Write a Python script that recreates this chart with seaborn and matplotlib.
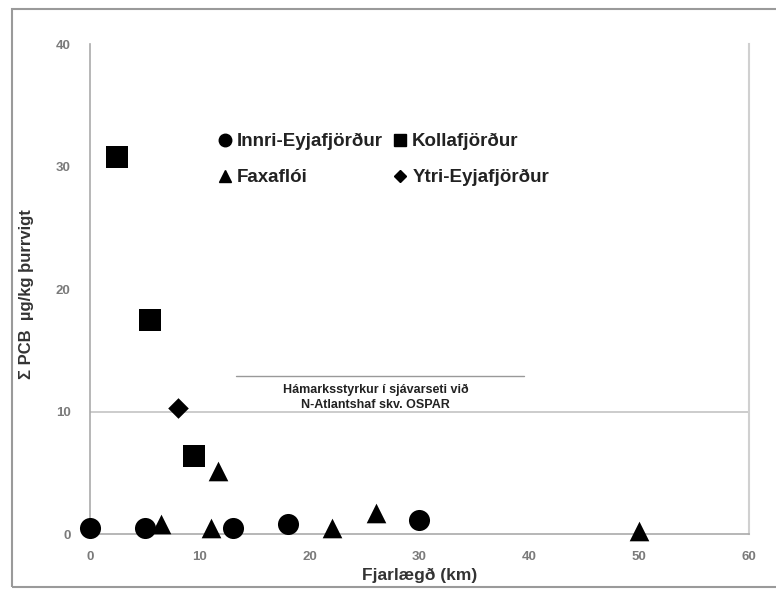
import matplotlib
matplotlib.use("Agg")
import matplotlib.pyplot as plt
import seaborn as sns
import pandas as pd
from matplotlib.lines import Line2D

# Data
innri_x = [0, 5, 13, 18, 30]
innri_y = [0.5, 0.5, 0.5, 0.8, 1.2]
kolla_x = [2.5, 5.5, 9.5]
kolla_y = [30.8, 17.5, 6.4]
faxa_x = [6.5, 11, 11.7, 22, 26, 50]
faxa_y = [0.8, 0.5, 5.2, 0.5, 1.7, 0.3]
ytri_x = [8]
ytri_y = [10.3]

series = ["Innri-Eyjafjörður", "Kollafjörður", "Faxaflói", "Ytri-Eyjafjörður"]
xs = [innri_x, kolla_x, faxa_x, ytri_x]
ys = [innri_y, kolla_y, faxa_y, ytri_y]

rows = []
for name, xv, yv in zip(series, xs, ys):
    for a, b in zip(xv, yv):
        rows.append({"x": a, "y": b, "s": name})
df = pd.DataFrame(rows)

sns.set_style("white")
plt.rcParams['font.family'] = ['Liberation Sans', 'DejaVu Sans']

fig = plt.figure(figsize=(7.76, 5.89), dpi=100)
ax = fig.add_axes([0.116, 0.093, 0.849, 0.832])

markers = {"Innri-Eyjafjörður": "o", "Kollafjörður": "s", "Faxaflói": "^", "Ytri-Eyjafjörður": "D"}
sizes_map = {"Innri-Eyjafjörður": 230, "Kollafjörður": 260, "Faxaflói": 200, "Ytri-Eyjafjörður": 110}
for name in series:
    sub = df[df.s == name]
    sns.scatterplot(data=sub, x="x", y="y", marker=markers[name], s=sizes_map[name],
                    color="black", edgecolor="black", linewidth=0, ax=ax, legend=False, zorder=3)

ax.axhline(10, color="#c4c4c4", lw=1.2, zorder=1)
ax.plot([13.3, 39.5], [12.9, 12.9], color="#999999", lw=1, zorder=1)
ax.text(26.0, 12.3, "Hámarksstyrkur í sjávarseti við\nN-Atlantshaf skv. OSPAR", ha="center", va="top",
        fontsize=9, fontweight="bold", color="#222222", linespacing=1.4)

ax.set_xlim(0, 60)
ax.set_ylim(0, 40)
ax.set_xticks(range(0, 61, 10))
ax.set_yticks(range(0, 41, 10))
ax.spines["top"].set_visible(False)
for sp in ["left", "bottom"]:
    ax.spines[sp].set_color("#aaaaaa")
    ax.spines[sp].set_linewidth(1.2)
ax.spines["right"].set_color("#d0d0d0")
ax.spines["right"].set_linewidth(1.5)
ax.tick_params(axis="both", colors="#aaaaaa", labelcolor="#7a7a7a", labelsize=9.5, length=4,
               direction="out")
for lab in ax.get_xticklabels() + ax.get_yticklabels():
    lab.set_fontweight("bold")
ax.tick_params(axis="x", pad=8)
ax.tick_params(axis="y", pad=10, right=False)
ax.set_xlabel("Fjarlægð (km)", fontsize=12.5, fontweight="bold", color="#333333")
ax.xaxis.set_label_coords(0.5, -0.068)
ax.set_ylabel("Σ PCB  µg/kg þurrvigt", fontsize=12, fontweight="bold", color="#333333")
ax.yaxis.set_label_coords(-0.085, 0.49)
for c in ax.collections:
    c.set_clip_on(False)

order = ["Innri-Eyjafjörður", "Faxaflói", "Kollafjörður", "Ytri-Eyjafjörður"]
msz = {"Innri-Eyjafjörður": 9, "Kollafjörður": 9, "Faxaflói": 9, "Ytri-Eyjafjörður": 6}
handles = [Line2D([], [], ls="none", marker=markers[n], color="black", markersize=msz[n]) for n in order]
leg = ax.legend(handles, order, ncol=2, loc="upper left", bbox_to_anchor=(0.165, 0.853),
                frameon=False, handletextpad=0.15, columnspacing=0.4, labelspacing=1.0,
                prop={"size": 13.5, "weight": "bold"}, handlelength=1.0)
for t in leg.get_texts():
    t.set_color("#222222")

border = plt.Rectangle((12, 2), 800, 578, transform=None, fill=False,
                       edgecolor="#9a9a9a", lw=1.5)
fig.patches.append(border)
fig.savefig("out.png", dpi=100)
